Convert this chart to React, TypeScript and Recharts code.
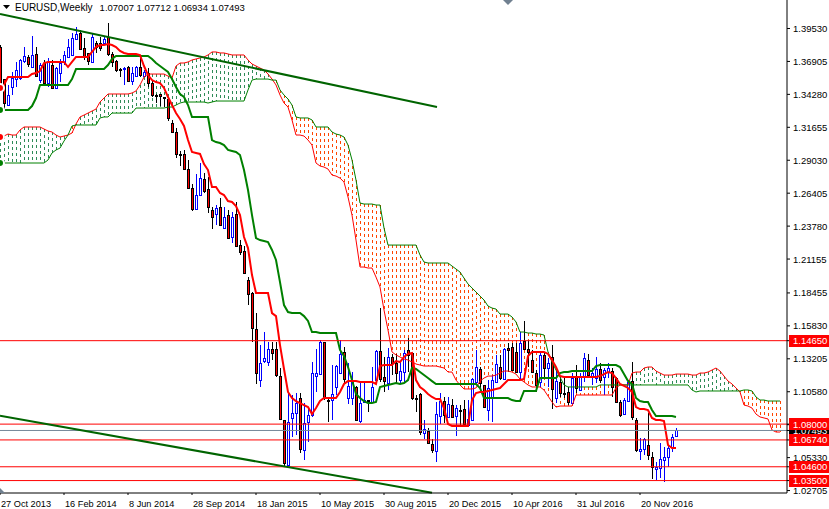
import { Bar, ComposedChart, Line, ReferenceLine, XAxis, YAxis } from "recharts";

const FONT = '"Liberation Sans", Arial, sans-serif';

// weekly candles, index 0 = 27 Oct 2013
const opens = [
  1.3805, 1.355, 1.3343, 1.3487, 1.355, 1.3558, 1.3694, 1.3726, 1.3646, 1.375,
  1.3542, 1.3678, 1.3518, 1.3662, 1.3479, 1.3598, 1.3686, 1.3726, 1.3742, 1.3869,
  1.3917, 1.3797, 1.3758, 1.3686, 1.3837, 1.3837, 1.3837, 1.3885, 1.375, 1.3694,
  1.363, 1.363, 1.3646, 1.3534, 1.3574, 1.3646, 1.3574, 1.3598, 1.3518, 1.3423,
  1.3431, 1.3407, 1.3391, 1.32, 1.3128, 1.2953, 1.2953, 1.2833, 1.2682, 1.2514,
  1.2626, 1.2753, 1.2674, 1.2506, 1.2474, 1.253, 1.2363, 1.2466, 1.2291, 1.2474,
  1.2227, 1.218, 1.1948, 1.1845, 1.1558, 1.1151, 1.1303, 1.1295, 1.1398, 1.1398,
  1.1183, 1.0833, 1.0474, 1.0849, 1.0888, 1.1008, 1.0594, 1.0817, 1.0872, 1.1183,
  1.1199, 1.1454, 1.0992, 1.0992, 1.1096, 1.1207, 1.1375, 1.1008, 1.1008, 1.1096,
  1.0825, 1.0976, 1.0992, 1.0976, 1.1151, 1.1383, 1.1175, 1.1128, 1.1335, 1.1287,
  1.1151, 1.1215, 1.1391, 1.1367, 1.1008, 1.104, 1.0729, 1.0745, 1.0641, 1.0586,
  1.0864, 1.0984, 1.0857, 1.0952, 1.0864, 1.0912, 1.092, 1.0793, 1.0833, 1.1136,
  1.1239, 1.1112, 1.0912, 1.1008, 1.1136, 1.1255, 1.1159, 1.1406, 1.1414, 1.1375,
  1.1215, 1.1462, 1.1398, 1.1311, 1.1207, 1.1136, 1.1351, 1.1247, 1.1335, 1.1008,
  1.1136, 1.1048, 1.1056, 1.0968, 1.1175, 1.1072, 1.1175, 1.1311, 1.1175, 1.1167,
  1.1239, 1.1175, 1.1215, 1.1223, 1.1167, 1.0976, 1.088, 1.0984, 1.1144, 1.0833,
  1.0586, 1.0602, 1.0634, 1.0538, 1.0442, 1.045, 1.0514, 1.0538, 1.0617, 1.07007,
];
const closes = [
  1.3503, 1.3359, 1.3423, 1.3558, 1.3622, 1.3702, 1.3734, 1.367, 1.3742, 1.3574,
  1.3662, 1.3518, 1.3686, 1.3479, 1.3638, 1.3678, 1.3742, 1.3805, 1.3877, 1.3909,
  1.379, 1.3734, 1.3694, 1.3885, 1.3805, 1.3797, 1.3869, 1.375, 1.3686, 1.3622,
  1.3622, 1.3638, 1.3534, 1.3598, 1.3646, 1.3582, 1.3606, 1.3518, 1.3423, 1.3415,
  1.3415, 1.3399, 1.324, 1.3128, 1.2953, 1.2945, 1.2833, 1.2682, 1.2514, 1.2626,
  1.2761, 1.2658, 1.253, 1.2451, 1.2522, 1.2387, 1.2451, 1.2283, 1.2451, 1.2219,
  1.2172, 1.2004, 1.1837, 1.1566, 1.1207, 1.1287, 1.1327, 1.1398, 1.1367, 1.1191,
  1.0841, 1.049, 1.0817, 1.0888, 1.0968, 1.0601, 1.0809, 1.0872, 1.1207, 1.1207,
  1.1454, 1.1008, 1.0984, 1.104, 1.1263, 1.1359, 1.1159, 1.1104, 1.1151, 1.0833,
  1.0968, 1.0992, 1.0984, 1.1096, 1.1383, 1.1159, 1.1143, 1.1335, 1.1287, 1.1207,
  1.1223, 1.1367, 1.1351, 1.1008, 1.1, 1.0737, 1.0761, 1.0649, 1.0594, 1.088,
  1.0984, 1.0872, 1.096, 1.0857, 1.0928, 1.0904, 1.0801, 1.0841, 1.1159, 1.1255,
  1.1128, 1.0936, 1.1088, 1.1151, 1.1279, 1.1167, 1.1398, 1.1391, 1.1231, 1.1215,
  1.1446, 1.1398, 1.1375, 1.1215, 1.1112, 1.1351, 1.1247, 1.1287, 1.108, 1.1144,
  1.1048, 1.104, 1.0976, 1.1167, 1.1088, 1.1175, 1.1327, 1.1191, 1.1207, 1.1239,
  1.1151, 1.1231, 1.1247, 1.1096, 1.0976, 1.0872, 1.0992, 1.1136, 1.0857, 1.0594,
  1.0602, 1.0681, 1.0554, 1.0458, 1.0458, 1.0522, 1.0538, 1.0609, 1.0697, 1.07493,
];
const highs = [
  1.3821, 1.355, 1.3503, 1.3606, 1.3686, 1.371, 1.3805, 1.3742, 1.3893, 1.3805,
  1.3678, 1.3702, 1.3718, 1.3702, 1.3646, 1.371, 1.3774, 1.3869, 1.3917, 1.3965,
  1.3941, 1.3877, 1.3758, 1.3917, 1.3853, 1.3885, 1.3885, 1.3997, 1.3766, 1.3702,
  1.3638, 1.3646, 1.3654, 1.3646, 1.3654, 1.3726, 1.3622, 1.3638, 1.3542, 1.3431,
  1.3431, 1.3407, 1.3399, 1.3224, 1.316, 1.2977, 1.2985, 1.2905, 1.2714, 1.2793,
  1.2881, 1.2801, 1.2769, 1.253, 1.2546, 1.2602, 1.253, 1.2506, 1.249, 1.257,
  1.2267, 1.2219, 1.1972, 1.1853, 1.1685, 1.143, 1.1534, 1.1454, 1.1454, 1.1454,
  1.1247, 1.0833, 1.1048, 1.1032, 1.1048, 1.1048, 1.0968, 1.0928, 1.1295, 1.1398,
  1.147, 1.1454, 1.1008, 1.1271, 1.1271, 1.147, 1.1414, 1.1287, 1.1215, 1.1104,
  1.1128, 1.1128, 1.0992, 1.1255, 1.1391, 1.1725, 1.1335, 1.1406, 1.1359, 1.1359,
  1.1295, 1.1391, 1.1486, 1.1367, 1.1032, 1.1048, 1.0833, 1.0769, 1.0681, 1.0976,
  1.1048, 1.1016, 1.1016, 1.1, 1.0952, 1.0952, 1.0992, 1.0992, 1.1167, 1.1391,
  1.1255, 1.1112, 1.1151, 1.1191, 1.1351, 1.1351, 1.1406, 1.1446, 1.1446, 1.1446,
  1.1534, 1.1622, 1.147, 1.1391, 1.1231, 1.1367, 1.1375, 1.1327, 1.143, 1.1247,
  1.1175, 1.1167, 1.1096, 1.1207, 1.1271, 1.1207, 1.1367, 1.1359, 1.1247, 1.1335,
  1.1287, 1.1247, 1.1287, 1.1247, 1.1175, 1.0992, 1.1008, 1.1151, 1.1295, 1.0849,
  1.0689, 1.0689, 1.0888, 1.0578, 1.0498, 1.0649, 1.0618, 1.0634, 1.0721, 1.07712,
];
const lows = [
  1.3495, 1.3303, 1.3335, 1.3423, 1.3487, 1.3542, 1.3678, 1.3646, 1.3638, 1.3566,
  1.3518, 1.3511, 1.3487, 1.3471, 1.3471, 1.3526, 1.3662, 1.3718, 1.3734, 1.3861,
  1.3782, 1.3702, 1.3662, 1.3678, 1.3758, 1.3774, 1.3821, 1.3734, 1.3646, 1.3606,
  1.3566, 1.3503, 1.3526, 1.3503, 1.3566, 1.3566, 1.3566, 1.3487, 1.3407, 1.3359,
  1.3335, 1.3327, 1.3216, 1.3128, 1.2921, 1.2857, 1.2825, 1.2674, 1.2498, 1.2506,
  1.2618, 1.2642, 1.2482, 1.2355, 1.2387, 1.2379, 1.2355, 1.2275, 1.2243, 1.2211,
  1.2148, 1.1996, 1.1749, 1.1454, 1.112, 1.1096, 1.1287, 1.1263, 1.1311, 1.1175,
  1.0841, 1.0466, 1.0466, 1.0697, 1.0713, 1.057, 1.0514, 1.0658, 1.0857, 1.1056,
  1.1191, 1.0992, 1.0817, 1.0833, 1.1032, 1.1207, 1.1128, 1.096, 1.0952, 1.0825,
  1.0809, 1.0976, 1.0896, 1.0968, 1.1136, 1.1136, 1.1056, 1.1072, 1.1191, 1.112,
  1.1128, 1.1136, 1.1215, 1.0992, 1.0896, 1.0713, 1.0681, 1.0641, 1.057, 1.0498,
  1.0801, 1.0809, 1.0849, 1.0849, 1.0705, 1.0777, 1.0793, 1.0777, 1.0825, 1.1128,
  1.1088, 1.0928, 1.0825, 1.0817, 1.1136, 1.1151, 1.1151, 1.1215, 1.1223, 1.1215,
  1.1151, 1.1391, 1.1255, 1.1207, 1.1056, 1.1096, 1.1167, 1.1096, 1.092, 1.0968,
  1.1016, 1.1008, 1.0952, 1.0952, 1.1048, 1.1064, 1.1136, 1.1167, 1.1112, 1.1128,
  1.1128, 1.1032, 1.1167, 1.1016, 1.0968, 1.0857, 1.0872, 1.0976, 1.0833, 1.0578,
  1.0514, 1.0554, 1.0514, 1.0362, 1.0354, 1.037, 1.0339, 1.0458, 1.0578, 1.06934,
];

// ichimoku conversion line
const tenkan = [
  1.3479, 1.3503, 1.3566, 1.3566, 1.3566, 1.3566, 1.3566, 1.3566, 1.359, 1.3598,
  1.3614, 1.3678, 1.3686, 1.3686, 1.3686, 1.3686, 1.3686, 1.3646, 1.3686, 1.3726,
  1.3726, 1.3726, 1.3726, 1.3766, 1.3805, 1.3821, 1.3821, 1.3829, 1.3821, 1.3805,
  1.3774, 1.3758, 1.375, 1.375, 1.375, 1.3742, 1.3654, 1.3582, 1.3542, 1.3526,
  1.3518, 1.3479, 1.3407, 1.3343, 1.3279, 1.3232, 1.3176, 1.3064, 1.2969, 1.2961,
  1.2953, 1.2873, 1.2825, 1.269, 1.269, 1.2642, 1.2626, 1.2578, 1.257, 1.2538,
  1.2466, 1.2291, 1.2203, 1.1988, 1.1845, 1.1845, 1.1845, 1.1845, 1.1685, 1.1661,
  1.143, 1.1239, 1.1056, 1.1008, 1.0984, 1.0968, 1.0952, 1.0936, 1.088, 1.0928,
  1.0984, 1.1008, 1.1008, 1.1008, 1.1008, 1.1056, 1.112, 1.1143, 1.1143, 1.1143,
  1.1136, 1.1136, 1.1136, 1.1136, 1.112, 1.1263, 1.1271, 1.1271, 1.1271, 1.1303,
  1.1295, 1.1335, 1.1359, 1.1367, 1.1151, 1.1096, 1.1072, 1.104, 1.1016, 1.1,
  1.1, 1.0928, 1.0801, 1.0785, 1.0785, 1.0785, 1.0785, 1.0785, 1.0992, 1.1048,
  1.1056, 1.1056, 1.1064, 1.1072, 1.108, 1.1088, 1.112, 1.1151, 1.1151, 1.1151,
  1.1151, 1.1159, 1.1343, 1.1375, 1.1375, 1.1375, 1.1375, 1.1359, 1.1311, 1.1255,
  1.1183, 1.1175, 1.1175, 1.1175, 1.1175, 1.1175, 1.1175, 1.1175, 1.1175, 1.1175,
  1.1183, 1.1199, 1.1215, 1.1207, 1.1167, 1.112, 1.1104, 1.1088, 1.1056, 1.0936,
  1.092, 1.092, 1.0912, 1.0849, 1.0833, 1.0833, 1.0825, 1.0634, 1.0609, 1.0609,
];
// ichimoku base line
const kijun = [
  1.3303, 1.3303, 1.3303, 1.3303, 1.3303, 1.3303, 1.3303, 1.3303, 1.3335, 1.3399,
  1.3503, 1.3503, 1.3503, 1.3503, 1.3503, 1.3503, 1.3503, 1.3503, 1.355, 1.363,
  1.363, 1.363, 1.363, 1.363, 1.363, 1.363, 1.363, 1.3662, 1.371, 1.3734,
  1.3734, 1.3734, 1.3734, 1.3734, 1.3734, 1.3734, 1.3734, 1.3734, 1.371, 1.3678,
  1.3654, 1.363, 1.3606, 1.355, 1.3487, 1.3431, 1.3407, 1.3343, 1.3248, 1.3248,
  1.3248, 1.3248, 1.3248, 1.3064, 1.3048, 1.304, 1.3024, 1.2985, 1.2977, 1.2969,
  1.2945, 1.2825, 1.2666, 1.2466, 1.2283, 1.2267, 1.2259, 1.2251, 1.2188, 1.2108,
  1.1932, 1.1749, 1.1693, 1.1685, 1.1685, 1.1685, 1.1661, 1.1622, 1.1534, 1.1534,
  1.1526, 1.1526, 1.1526, 1.1526, 1.1526, 1.1391, 1.1343, 1.1255, 1.1151, 1.104,
  1.1008, 1.0984, 1.0968, 1.0968, 1.0976, 1.1096, 1.1104, 1.1112, 1.112, 1.1128,
  1.112, 1.1128, 1.1151, 1.1247, 1.1239, 1.1215, 1.1191, 1.1167, 1.1143, 1.112,
  1.112, 1.112, 1.112, 1.112, 1.112, 1.112, 1.112, 1.112, 1.112, 1.112,
  1.1088, 1.1008, 1.1008, 1.1008, 1.1008, 1.1008, 1.1008, 1.1008, 1.0992, 1.0984,
  1.0984, 1.1064, 1.1064, 1.1064, 1.1064, 1.1167, 1.1167, 1.1167, 1.1167, 1.1167,
  1.1207, 1.1215, 1.1215, 1.1223, 1.1223, 1.1223, 1.1223, 1.1223, 1.1223, 1.1263,
  1.1271, 1.1271, 1.1271, 1.1271, 1.1271, 1.1255, 1.1199, 1.1143, 1.112, 1.1008,
  1.0984, 1.0976, 1.0976, 1.0912, 1.0864, 1.0864, 1.0864, 1.0864, 1.0864, 1.0857,
];
// leading spans, projected past the last candle
const spanA = [
  1.3088, 1.3096, 1.3112, 1.3104, 1.3104, 1.3144, 1.3168, 1.3168, 1.3168, 1.3168,
  1.3168, 1.3152, 1.3136, 1.3128, 1.3104, 1.3088, 1.3096, 1.3104, 1.312, 1.3192,
  1.3248, 1.3263, 1.3279, 1.3295, 1.3311, 1.3367, 1.3399, 1.3431, 1.3431, 1.3431,
  1.3431, 1.3431, 1.3431, 1.3439, 1.3455, 1.3503, 1.3566, 1.359, 1.359, 1.359,
  1.359, 1.359, 1.3574, 1.3558, 1.3654, 1.3678, 1.3678, 1.3686, 1.3702, 1.371,
  1.3718, 1.3726, 1.3742, 1.3766, 1.3766, 1.3758, 1.3758, 1.375, 1.3742, 1.3742,
  1.3742, 1.3742, 1.3702, 1.367, 1.3654, 1.3638, 1.3622, 1.359, 1.355, 1.3503,
  1.3423, 1.3359, 1.3327, 1.3224, 1.3104, 1.3104, 1.3096, 1.3064, 1.3024, 1.2881,
  1.2857, 1.2849, 1.2833, 1.2785, 1.2777, 1.2761, 1.2729, 1.261, 1.2466, 1.2267,
  1.2052, 1.2052, 1.2044, 1.2044, 1.1972, 1.1893, 1.1709, 1.155, 1.1375, 1.1351,
  1.1335, 1.1319, 1.1311, 1.1295, 1.1279, 1.1271, 1.1263, 1.1263, 1.1263, 1.1263,
  1.1255, 1.1247, 1.1215, 1.1215, 1.1151, 1.1112, 1.108, 1.108, 1.108, 1.1088,
  1.1143, 1.1167, 1.1183, 1.1183, 1.1191, 1.1207, 1.1223, 1.1223, 1.1215, 1.1199,
  1.1159, 1.1136, 1.1112, 1.1096, 1.1096, 1.1096, 1.1072, 1.1024, 1.0976, 1.0936,
  1.0944, 1.0944, 1.0944, 1.0944, 1.1032, 1.1032, 1.1032, 1.1032, 1.1032, 1.1032,
  1.1032, 1.1032, 1.1032, 1.1032, 1.1088, 1.1112, 1.1112, 1.1112, 1.1207, 1.1215,
  1.1215, 1.1247, 1.1255, 1.1255, 1.1223, 1.1207, 1.1191, 1.1191, 1.1191, 1.1199,
  1.1199, 1.1199, 1.1199, 1.1191, 1.1191, 1.1207, 1.1207, 1.1215, 1.1231, 1.1247,
  1.1223, 1.1183, 1.1143, 1.112, 1.1088, 1.1056, 1.0952, 1.0944, 1.0928, 1.088,
  1.0857, 1.0849, 1.0841, 1.0753, 1.0737, 1.0737,
];
const spanB = [
  1.2881, 1.2881, 1.2881, 1.2881, 1.2881, 1.2881, 1.2881, 1.2881, 1.2881, 1.2881,
  1.2881, 1.2881, 1.2905, 1.2961, 1.2985, 1.3, 1.3056, 1.3104, 1.3176, 1.3184,
  1.3184, 1.3184, 1.3184, 1.3184, 1.3184, 1.324, 1.3248, 1.3248, 1.3279, 1.3279,
  1.3279, 1.3279, 1.3279, 1.3279, 1.3319, 1.3319, 1.3319, 1.3319, 1.3319, 1.3319,
  1.3319, 1.3319, 1.3327, 1.3327, 1.3343, 1.3359, 1.3367, 1.3367, 1.3367, 1.3367,
  1.3367, 1.3367, 1.3359, 1.3367, 1.3375, 1.3375, 1.3375, 1.3375, 1.3375, 1.3375,
  1.3375, 1.3375, 1.3463, 1.3542, 1.355, 1.355, 1.355, 1.355, 1.3542, 1.3542,
  1.3463, 1.3423, 1.3391, 1.3343, 1.3248, 1.324, 1.324, 1.324, 1.3224, 1.3168,
  1.3168, 1.3168, 1.3168, 1.3128, 1.3112, 1.3104, 1.3088, 1.3024, 1.2905, 1.2745,
  1.2562, 1.2554, 1.2554, 1.2554, 1.2546, 1.2546, 1.2363, 1.2227, 1.2227, 1.2227,
  1.2227, 1.2227, 1.2227, 1.2227, 1.2227, 1.2148, 1.2092, 1.2084, 1.2084, 1.2084,
  1.2084, 1.2084, 1.2084, 1.206, 1.2036, 1.2012, 1.1964, 1.1917, 1.1885, 1.1853,
  1.1821, 1.1789, 1.1741, 1.1725, 1.1717, 1.1677, 1.1677, 1.1677, 1.1654, 1.1614,
  1.1534, 1.1534, 1.1526, 1.1526, 1.1518, 1.1518, 1.151, 1.1375, 1.1295, 1.1231,
  1.1175, 1.1112, 1.1096, 1.1096, 1.1096, 1.1096, 1.1096, 1.1096, 1.1096, 1.1096,
  1.1112, 1.1112, 1.1112, 1.1112, 1.1112, 1.1112, 1.1112, 1.1112, 1.1112, 1.1112,
  1.1112, 1.1112, 1.1112, 1.1112, 1.1112, 1.1112, 1.1112, 1.1112, 1.1112, 1.1112,
  1.1112, 1.1112, 1.1112, 1.1072, 1.1056, 1.1064, 1.1064, 1.1064, 1.1064, 1.1064,
  1.1064, 1.1064, 1.1064, 1.1064, 1.1064, 1.1064, 1.1072, 1.1072, 1.1064, 1.1016,
  1.0992, 1.0992, 1.0984, 1.0984, 1.0984, 1.0984,
];

const axisTicks = [
  1.3953, 1.36905, 1.3428, 1.31655, 1.2903, 1.26405, 1.2378, 1.21155, 1.18455,
  1.1583, 1.13205, 1.1058, 1.07955, 1.0533, 1.02705,
];
const bidLevel = 1.07493;
const redLevels = [1.1465, 1.08, 1.0674, 1.046, 1.035];

const dateTicks = [0, 16, 32, 48, 64, 80, 96, 112, 128, 144, 160];
const dateLabels = [
  "27 Oct 2013", "16 Feb 2014", "8 Jun 2014", "28 Sep 2014", "18 Jan 2015", "10 May 2015",
  "30 Aug 2015", "20 Dec 2015", "10 Apr 2016", "31 Jul 2016", "20 Nov 2016",
];

const upperTrend = [{ x: 0, y: 1.4068 }, { x: 109.25, y: 1.3327 }];
const lowerTrend = [{ x: 0, y: 1.0867 }, { x: 108, y: 1.0253 }];

const rows = spanA.map((a, i) => ({
  i,
  open: opens[i],
  close: closes[i],
  high: highs[i],
  low: lows[i],
  range: i < opens.length ? [lows[i], highs[i]] : undefined,
  tenkan: tenkan[i],
  kijun: kijun[i],
  spanA: a,
  spanB: spanB[i],
  cloud: [Math.min(a, spanB[i]), Math.max(a, spanB[i])],
}));

function Candle(props: any) {
  const { x, y, width, height, payload } = props;
  if (!payload.range || !height) return null;
  const cx = Math.round(x + width / 2) + 0.5;
  const perUnit = height / (payload.high - payload.low);
  const up = payload.close >= payload.open;
  const top = y + (payload.high - Math.max(payload.open, payload.close)) * perUnit;
  const h = Math.max(Math.abs(payload.open - payload.close) * perUnit, 1);
  return (
    <g shapeRendering="crispEdges">
      <line x1={cx} x2={cx} y1={y} y2={y + height} stroke={up ? "#0000ff" : "#000"} />
      <rect
        x={cx - 1}
        y={Math.round(top) + 0.5}
        width={2}
        height={Math.round(h)}
        fill={up ? "#fff" : "#ff0000"}
        stroke={up ? "#0000ff" : "#000"}
      />
    </g>
  );
}

function CloudDash(props: any) {
  const { x, y, width, height, payload } = props;
  if (!height) return null;
  const cx = Math.round(x + width / 2) + 0.5;
  return (
    <line
      x1={cx}
      x2={cx}
      y1={y}
      y2={y + height}
      stroke={payload.spanA >= payload.spanB ? "#2e8b57" : "#ff4500"}
      strokeDasharray="3 3"
      shapeRendering="crispEdges"
    />
  );
}

function PriceTick(props: any) {
  const { y, payload } = props;
  const v = payload.value;
  const isRed = redLevels.includes(v);
  const isBid = v === bidLevel;
  return (
    <g>
      {(isRed || isBid) && (
        <rect x={789} y={Math.round(y) - 6} width={40} height={12} fill={isRed ? "#ff0000" : "#000"} />
      )}
      <text
        x={793}
        y={y + 3.5}
        fill={isRed || isBid ? "#fff" : "#000"}
        fontFamily={FONT}
        fontSize={9.5}
      >
        {v.toFixed(5)}
      </text>
    </g>
  );
}

function DateTick(props: any) {
  const { x, y, payload } = props;
  return (
    <text x={x + 1} y={y + 10} fill="#000" fontFamily={FONT} fontSize={9.2}>
      {dateLabels[dateTicks.indexOf(payload.value)]}
    </text>
  );
}

export default function App() {
  return (
    <div style={{ position: "absolute", left: 0, top: 0, width: 829, height: 509, background: "#fff", overflow: "hidden" }}>
      <ComposedChart
        width={829}
        height={509}
        data={rows}
        margin={{ top: 0, right: 0, bottom: 0, left: 0 }}
      >
        <XAxis
          dataKey="i"
          type="number"
          domain={[0, 196.75]}
          ticks={dateTicks}
          interval={0}
          height={16}
          tickSize={2}
          tick={<DateTick />}
          axisLine={{ stroke: "#000" }}
          tickLine={{ stroke: "#000" }}
          allowDataOverflow
        />
        <XAxis xAxisId="cloud" dataKey="i" type="number" domain={[0, 196.75]} hide allowDataOverflow />
        <YAxis
          orientation="right"
          width={42}
          domain={[1.0251, 1.41801]}
          ticks={[...axisTicks, bidLevel, ...redLevels]}
          interval={0}
          tickSize={3}
          tick={<PriceTick />}
          axisLine={{ stroke: "#000" }}
          tickLine={{ stroke: "#000" }}
          allowDataOverflow
        />
        <Bar xAxisId="cloud" dataKey="cloud" barSize={1} shape={<CloudDash />} isAnimationActive={false} />
        <Line dataKey="spanA" stroke="#ff0000" strokeWidth={1} strokeLinecap="butt" dot={false} isAnimationActive={false} />
        <Line dataKey="spanB" stroke="#008000" strokeWidth={1} strokeLinecap="butt" dot={false} isAnimationActive={false} />
        <Bar dataKey="range" barSize={3} shape={<Candle />} isAnimationActive={false} />
        <Line dataKey="kijun" stroke="#008000" strokeWidth={2} strokeLinecap="butt" dot={false} isAnimationActive={false} />
        <Line dataKey="tenkan" stroke="#ff0000" strokeWidth={2} strokeLinecap="butt" dot={false} isAnimationActive={false} />
        <ReferenceLine y={bidLevel} stroke="#778899" />
        {redLevels.map((v) => (
          <ReferenceLine key={v} y={v} stroke="#ff0000" />
        ))}
        <ReferenceLine segment={upperTrend} stroke="#006400" strokeWidth={2} />
        <ReferenceLine segment={lowerTrend} stroke="#006400" strokeWidth={2} />
      </ComposedChart>
      <svg width={829} height={509} style={{ position: "absolute", left: 0, top: 0, pointerEvents: "none" }}>
        <polygon points="3,5 10,5 6.5,9" fill="#000" />
        <polygon points="503,0 513,0 508,5" fill="#708090" />
        <polygon points="0,488 0,493 5,493" fill="#708090" />
      </svg>
      <div style={{ position: "absolute", left: 15, top: 2, fontFamily: FONT, fontSize: 10, color: "#000", whiteSpace: "pre" }}>
        EURUSD,Weekly<span style={{ marginLeft: 7, fontSize: 9.5 }}>1.07007 1.07712 1.06934 1.07493</span>
      </div>
    </div>
  );
}
